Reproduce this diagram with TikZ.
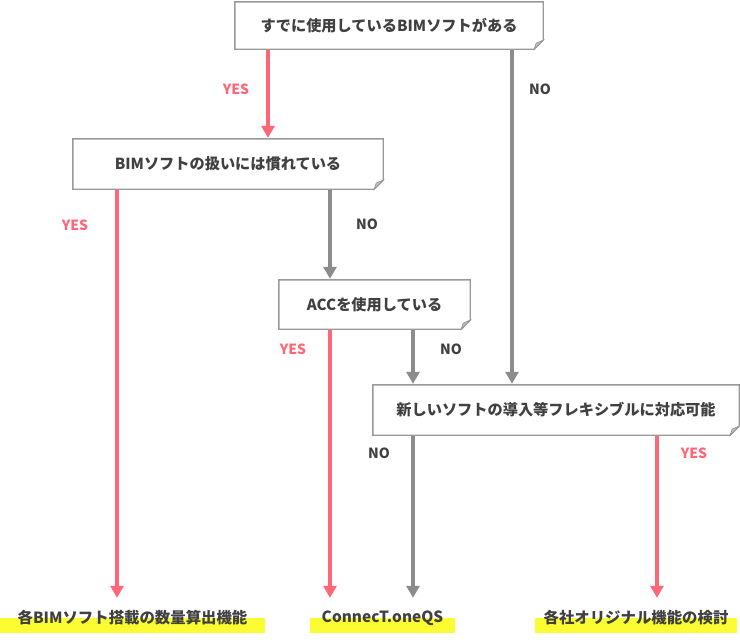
\documentclass[tikz,border=0pt]{standalone}
\usepackage{fontspec}
\setmainfont{Noto Sans CJK JP}
\usetikzlibrary{arrows.meta}
\definecolor{yesred}{HTML}{FF6677}
\definecolor{nogray}{HTML}{8C8C8C}
\definecolor{txt}{HTML}{404040}
\definecolor{boxline}{HTML}{999999}
\definecolor{hl}{HTML}{FCFC33}
\tikzset{
  qbox/.style={draw=none, fill=white, inner sep=0pt, text=txt, font=\fontsize{15.2}{17}\selectfont\bfseries},
  yesarrow/.style={draw=yesred, line width=4pt, -{Triangle[width=13pt,length=12pt]}},
  noarrow/.style={draw=nogray, line width=4pt, -{Triangle[width=13pt,length=12pt]}},
  yeslbl/.style={text=yesred, font=\fontsize{14}{16}\selectfont\bfseries},
  nolbl/.style={text=txt, font=\fontsize{14}{16}\selectfont\bfseries},
  outnode/.style={inner sep=0pt, minimum height=30pt, text=txt, font=\fontsize{15.4}{17}\selectfont\bfseries,
    path picture={\fill[hl] (path picture bounding box.west) rectangle (path picture bounding box.south east);}},
}
\begin{document}
\begin{tikzpicture}[x=1pt,y=-1pt]
\useasboundingbox (0,0) rectangle (740,640);
% question boxes
\node[qbox, minimum width=308pt, minimum height=47pt] (b1) at (389,25.5) {すでに使用しているBIMソフトがある};
\node[qbox, minimum width=310pt, minimum height=50pt] (b2) at (228,164) {BIMソフトの扱いには慣れている};
\node[qbox, minimum width=191pt, minimum height=49pt] (b3) at (374.5,304.5) {ACCを使用している};
\node[qbox, minimum width=366pt, minimum height=50pt] (b4) at (556,410) {新しいソフトの導入等フレキシブルに対応可能};
\foreach \n in {b1,b2,b3,b4}{
  \draw[boxline, line width=1.4pt, line join=miter] (\n.north west) -- (\n.north east) -- ([yshift=9pt]\n.south east) -- ([xshift=-9pt]\n.south east) -- (\n.south west) -- cycle;
  \filldraw[draw=boxline, fill=boxline!60, line width=0.8pt] ([yshift=9pt]\n.south east) -- ([xshift=-9pt]\n.south east) -- ([xshift=-7pt,yshift=6pt]\n.south east) -- cycle;
}
% outputs
\node[outnode, minimum width=265pt] (o1) at (132.5,618) {各BIMソフト搭載の数量算出機能};
\node[outnode, minimum width=145pt] (o2) at (382.5,618) {ConnecT.oneQS};
\node[outnode, minimum width=202pt] (o3) at (636,618) {各社オリジナル機能の検討};
% column coordinates
\coordinate (c1) at (268,0);
\coordinate (c2) at (512,0);
\coordinate (c3) at (117,0);
\coordinate (c4) at (330,0);
\coordinate (c5) at (413,0);
\coordinate (c6) at (657,0);
% connectors
\draw[yesarrow] ([yshift=-1pt]b1.south -| c1) -- ([yshift=1pt]b2.north -| c1);
\draw[noarrow] ([yshift=-1pt]b1.south -| c2) -- ([yshift=1pt]b4.north -| c2);
\draw[yesarrow, shorten >=5pt] ([yshift=-1pt]b2.south -| c3) -- (o1.north -| c3);
\draw[noarrow] ([yshift=-1pt]b2.south -| c4) -- ([yshift=1pt]b3.north -| c4);
\draw[yesarrow, shorten >=5pt] ([yshift=-1pt]b3.south -| c4) -- (o2.north -| c4);
\draw[noarrow] ([yshift=-1pt]b3.south -| c5) -- ([yshift=1pt]b4.north -| c5);
\draw[noarrow, shorten >=5pt] ([yshift=-1pt]b4.south -| c5) -- (o2.north -| c5);
\draw[yesarrow, shorten >=5pt] ([yshift=-1pt]b4.south -| c6) -- (o3.north -| c6);
% labels
\node[yeslbl] (l1) at (236,89) {YES};
\node[nolbl] (l2) at (540,89) {NO};
\node[yeslbl] (l3) at (75,225) {YES};
\node[nolbl] (l4) at (367,224) {NO};
\node[yeslbl] (l5) at (293,349) {YES};
\node[nolbl] (l6) at (451,349) {NO};
\node[nolbl] (l7) at (379,453) {NO};
\node[yeslbl] (l8) at (694,453) {YES};
\end{tikzpicture}
\end{document}
